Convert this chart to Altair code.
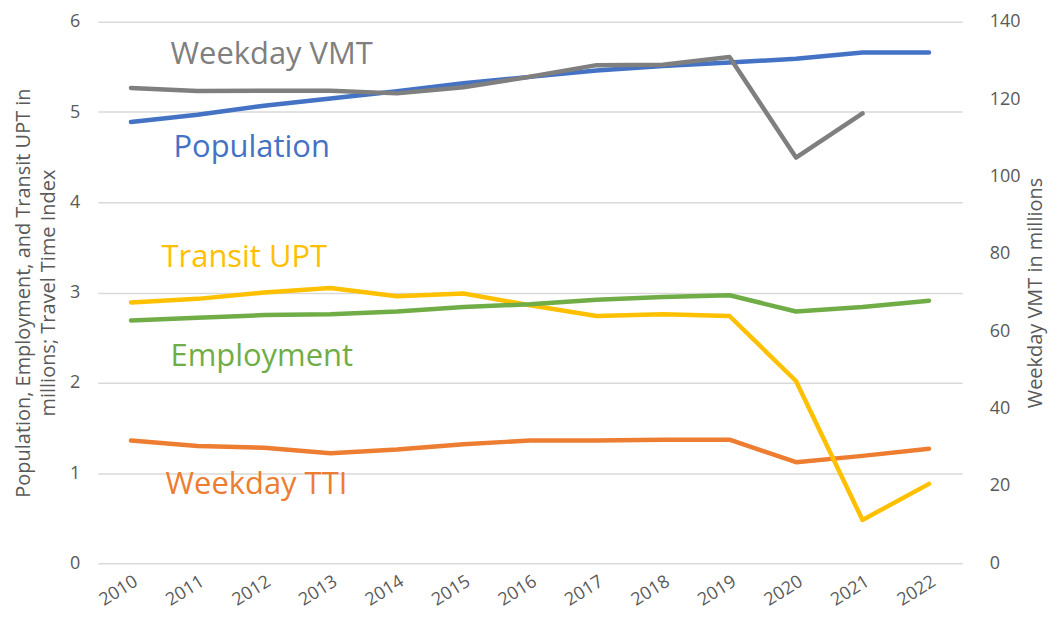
import altair as alt
import pandas as pd

years = [str(y) for y in range(2010, 2023)]
population = [4.89, 4.97, 5.07, 5.15, 5.23, 5.32, 5.39, 5.46, 5.51, 5.55, 5.59, 5.66, 5.66]
employment = [2.69, 2.72, 2.75, 2.76, 2.79, 2.84, 2.87, 2.92, 2.95, 2.97, 2.79, 2.84, 2.91]
transit_upt = [2.89, 2.93, 3.00, 3.05, 2.96, 2.99, 2.86, 2.74, 2.76, 2.74, 2.02, 0.48, 0.88]
weekday_tti = [1.36, 1.30, 1.28, 1.22, 1.26, 1.32, 1.36, 1.36, 1.37, 1.37, 1.12, 1.19, 1.27]
weekday_vmt = [122.9, 122.1, 122.2, 122.2, 121.5, 123.1, 125.8, 128.8, 128.9, 130.9, 104.9, 116.3, None]

series_names = ["Population", "Weekday TTI", "Transit UPT", "Employment", "Weekday VMT"]
series_values = [population, weekday_tti, transit_upt, employment, weekday_vmt]
series_colors = ["#4472c4", "#ed7d31", "#ffc000", "#70ad47", "#7f7f7f"]

rows = []
for name, vals in zip(series_names, series_values):
    for yr, v in zip(years, vals):
        if v is not None:
            rows.append({"year": yr, "series": name, "value": v})
df = pd.DataFrame(rows)

FONT = "Open Sans"
GREY = "#595959"

xenc = alt.X(
    "year:O",
    sort=years,
    scale=alt.Scale(type="point", padding=0.5),
    axis=alt.Axis(title=None, labelAngle=-32, labelFontSize=18, labelColor=GREY,
                  labelFont=FONT, domain=False, ticks=False, labelPadding=9, grid=False),
)

left_axis = alt.Axis(
    title=["Population, Employment, and Transit UPT in", "millions; Travel Time Index"],
    titleFont=FONT, titleFontSize=20, titleFontWeight="normal", titleColor=GREY,
    titleLineHeight=25, titlePadding=11,
    labelFont=FONT, labelFontSize=18, labelColor=GREY, labelPadding=18,
    values=[0, 1, 2, 3, 4, 5, 6], domain=False, ticks=False,
    grid=True, gridColor="#d9d9d9", gridWidth=1.5,
)
right_axis = alt.Axis(
    title="Weekday VMT in millions", orient="right",
    titleFont=FONT, titleFontSize=20, titleFontWeight="normal", titleColor=GREY,
    titleAngle=270, titlePadding=26,
    labelFont=FONT, labelFontSize=18, labelColor=GREY, labelPadding=27,
    values=[0, 20, 40, 60, 80, 100, 120, 140], domain=False, ticks=False, grid=False,
)


def line(name, color, axis, domain):
    return alt.Chart(df).transform_filter(alt.datum.series == name).mark_line(
        color=color, strokeWidth=4.5, strokeCap="round", strokeJoin="round"
    ).encode(
        x=xenc,
        y=alt.Y("value:Q", scale=alt.Scale(domain=domain, nice=False), axis=axis),
    )


left_layers = [
    line(n, c, left_axis, [0, 6])
    for n, c in zip(series_names[:4], series_colors[:4])
]
left = alt.layer(*left_layers)
right = line(series_names[4], series_colors[4], right_axis, [0, 140])


def label(text, color, px, py):
    return alt.Chart(pd.DataFrame({"t": [text]})).mark_text(
        align="left", baseline="alphabetic", font=FONT, fontSize=31, color=color
    ).encode(text="t:N", x=alt.value(px), y=alt.value(py))


labels = [
    label("Weekday VMT", series_colors[4], 73, 42),
    label("Population", series_colors[0], 76, 136),
    label("Transit UPT", series_colors[2], 64, 246),
    label("Employment", series_colors[3], 73, 345),
    label("Weekday TTI", series_colors[1], 68, 474),
]

chart = alt.layer(left, right, *labels).resolve_scale(y="independent").properties(
    width=867, height=543,
    autosize=alt.AutoSizeParams(type="none"),
    padding={"left": 90, "top": 13, "right": 88, "bottom": 46},
).configure_view(stroke=None)

chart.save("out.html", embed_options={"renderer": "svg", "actions": False})
